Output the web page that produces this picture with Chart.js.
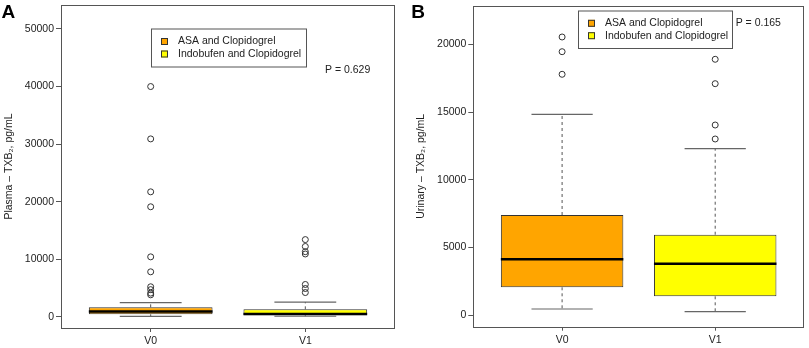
<!DOCTYPE html>
<html><head><meta charset="utf-8">
<script src="https://cdn.jsdelivr.net/npm/chart.js@4.4.1/dist/chart.umd.min.js"></script>
<style>
body{margin:0;background:#fff;width:809px;height:348px;overflow:hidden;position:relative}
canvas{position:absolute;top:0}
#ca{left:0}
#cb{left:400px}
</style></head><body>
<canvas id="ca" width="400" height="348"></canvas>
<canvas id="cb" width="409" height="348"></canvas>
<script>
// ---------- data ----------
const CATEGORIES = ['V0', 'V1'];
const GROUPS = ['ASA and Clopidogrel', 'Indobufen and Clopidogrel'];
const COLORS = ['#FFA500', '#FFFF00'];

// Panel A: Plasma TXB2
const A_LOW  = [60, 80];
const A_Q1   = [420, 250];
const A_MED  = [900, 480];
const A_Q3   = [1630, 1280];
const A_HIGH = [2450, 2550];
const A_OUT_V0 = [40000, 30900, 21700, 19100, 10400, 7800, 5200, 4700, 4100, 3800];
const A_OUT_V1 = [13400, 12200, 11300, 10900, 5600, 4900, 4200];
const A_TICKS = [0, 10000, 20000, 30000, 40000, 50000];
const A_P = 'P = 0.629';

// Panel B: Urinary TXB2
const B_LOW  = [465, 266];
const B_Q1   = [2066, 1402];
const B_MED  = [4133, 3808];
const B_Q3   = [7402, 5948];
const B_HIGH = [14834, 12295];
const B_OUT_V0 = [20539, 19454, 17786];
const B_OUT_V1 = [18893, 17093, 14044, 13011];
const B_TICKS = [0, 5000, 10000, 15000, 20000];
const B_P = 'P = 0.165';

// ---------- styling ----------
const FONT = {family: '"Liberation Sans", Arial, sans-serif', size: 10.5};
const TXT = '#222';
const FRAME = '#555';
const BOX_HALF = 0.4, CAP_HALF = 0.2;

const framePlugin = {
  id: 'frame',
  afterDraw(chart, args, o) {
    const {ctx, chartArea: a} = chart;
    ctx.save();
    ctx.strokeStyle = FRAME; ctx.lineWidth = 1;
    ctx.strokeRect(Math.round(a.left) + 0.5, Math.round(a.top) + 0.5,
                   Math.round(a.right - a.left) - 1, Math.round(a.bottom - a.top));
    // legend
    const L = o.legend;
    ctx.strokeRect(L.x + 0.5, L.y + 0.5, L.w, L.h);
    ctx.font = FONT.size + 'px ' + FONT.family;
    ctx.textBaseline = 'middle';
    ctx.textAlign = 'left';
    GROUPS.forEach((g, i) => {
      const cy = L.y + L.rows[i];
      ctx.fillStyle = COLORS[i];
      ctx.fillRect(L.x + 10, cy - 3.5, 7, 7);
      ctx.strokeStyle = '#333';
      ctx.strokeRect(L.x + 10.5, cy - 3, 6, 6);
      ctx.fillStyle = TXT;
      ctx.fillText(g, L.x + 27, cy);
    });
    // p-value
    ctx.fillText(o.p.text, o.p.x, o.p.y);
    // panel letter
    ctx.font = 'bold 19px ' + FONT.family;
    ctx.fillStyle = '#000';
    ctx.textBaseline = 'alphabetic';
    ctx.fillText(o.letter.text, o.letter.x, o.letter.y);
    ctx.restore();
  }
};

function makePanel(id, p) {
  const X = CATEGORIES.map((c, i) => i + 1);
  const whisk = [], caps = [], meds = [], outs = [];
  X.forEach((x, i) => {
    whisk.push({x, y: p.q3[i]}, {x, y: p.high[i]}, {x, y: null},
               {x, y: p.q1[i]}, {x, y: p.low[i]}, {x, y: null});
    caps.push({x: x - CAP_HALF, y: p.high[i]}, {x: x + CAP_HALF, y: p.high[i]}, {x, y: null},
              {x: x - CAP_HALF, y: p.low[i]}, {x: x + CAP_HALF, y: p.low[i]}, {x, y: null});
    meds.push({x: x - BOX_HALF, y: p.med[i]}, {x: x + BOX_HALF, y: p.med[i]}, {x, y: null});
    p.out[i].forEach(v => outs.push({x, y: v}));
  });
  const lineBase = {type: 'line', pointRadius: 0, spanGaps: false, fill: false, borderCapStyle: 'butt'};
  return new Chart(document.getElementById(id), {
    type: 'bar',
    data: {
      datasets: [
        {type: 'bar', data: X.map((x, i) => ({x, y: [p.q1[i], p.q3[i]]})),
         backgroundColor: COLORS, borderColor: '#333', borderWidth: 1, borderSkipped: false,
         barPercentage: 0.8, categoryPercentage: 1, order: 10},
        Object.assign({}, lineBase, {data: whisk, borderColor: '#555', borderWidth: 1, borderDash: [3, 3], order: 4}),
        Object.assign({}, lineBase, {data: caps, borderColor: '#666', borderWidth: 1.2, order: 3}),
        Object.assign({}, lineBase, {data: meds, borderColor: '#000', borderWidth: 2.5, order: 1}),
        {type: 'scatter', data: outs, pointRadius: 3, pointBackgroundColor: 'rgba(0,0,0,0)',
         pointBorderColor: '#333', pointBorderWidth: 1, order: 2}
      ]
    },
    options: {
      responsive: false, animation: false, devicePixelRatio: 1,
      layout: {padding: p.pad},
      plugins: {legend: {display: false}, tooltip: {enabled: false},
                frame: {legend: p.legend, p: p.p, letter: p.letter}},
      scales: {
        x: {type: 'linear', min: 0.42, max: 2.58, offset: false,
            afterBuildTicks: s => { s.ticks = X.map(v => ({value: v})); },
            ticks: {callback: (v, i) => CATEGORIES[i], font: FONT, color: TXT, padding: 3,
                    autoSkip: false, maxRotation: 0},
            grid: {display: true, offset: false, drawOnChartArea: false, drawTicks: true, tickLength: 4, color: FRAME},
            border: {display: false},
            afterFit: s => { s.height = p.xHeight; s.paddingLeft = 0; s.paddingRight = 0; }},
        y: {type: 'linear', min: p.yMin, max: p.yMax,
            afterBuildTicks: s => { s.ticks = p.ticks.map(v => ({value: v})); },
            ticks: {font: FONT, color: TXT, padding: 2, callback: v => String(v)},
            grid: {display: true, drawOnChartArea: false, drawTicks: true, tickLength: 5, color: FRAME},
            border: {display: false},
            title: {display: true, text: p.title, font: FONT, color: TXT, padding: {top: p.titlePad, bottom: 0}},
            afterFit: s => { s.width = p.yWidth; s.paddingTop = 0; s.paddingBottom = 0; }}
      }
    },
    plugins: [framePlugin]
  });
}

makePanel('ca', {
  low: A_LOW, q1: A_Q1, med: A_MED, q3: A_Q3, high: A_HIGH, out: [A_OUT_V0, A_OUT_V1],
  ticks: A_TICKS, yMin: -1964, yMax: 54170,
  title: 'Plasma \u2013 TXB\u2082, pg/mL', titlePad: 3.2,
  pad: {left: 0, top: 5, right: 4, bottom: 0}, yWidth: 61, xHeight: 20,
  legend: {x: 151, y: 28.5, w: 155, h: 38, rows: [13, 25.5]},
  p: {text: A_P, x: 325, y: 70.5},
  letter: {text: 'A', x: 1.5, y: 18.3}
});

makePanel('cb', {
  low: B_LOW, q1: B_Q1, med: B_MED, q3: B_Q3, high: B_HIGH, out: [B_OUT_V0, B_OUT_V1],
  ticks: B_TICKS, yMin: -841, yMax: 22826,
  title: 'Urinary \u2013 TXB\u2082, pg/mL', titlePad: 14.4,
  pad: {left: 0, top: 6, right: 4.7, bottom: 0}, yWidth: 73.3, xHeight: 21.3,
  legend: {x: 178, y: 10.5, w: 154, h: 37.5, rows: [12.8, 25.2]},
  p: {text: B_P, x: 335.7, y: 23.5},
  letter: {text: 'B', x: 11.2, y: 18.3}
});
</script>
</body></html>
